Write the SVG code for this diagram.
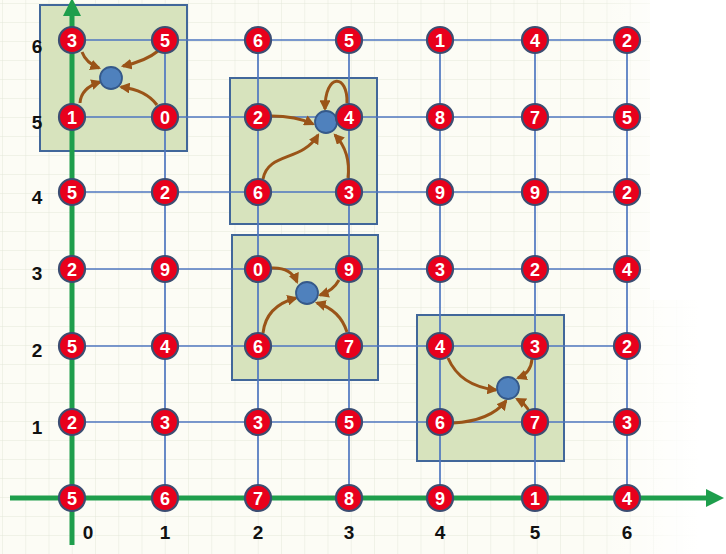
<svg xmlns="http://www.w3.org/2000/svg" width="726" height="554" viewBox="0 0 726 554">
<defs>
<pattern id="fine" width="23.25" height="19" patternUnits="userSpaceOnUse" x="2" y="3">
<path d="M0,0 H23.25 M0,0 V19" fill="none" stroke="#e4e7da" stroke-width="1"/>
</pattern>
<linearGradient id="fade" x1="0" y1="0" x2="1" y2="0">
<stop offset="0.85" stop-color="#fff" stop-opacity="0"/>
<stop offset="1" stop-color="#fff" stop-opacity="1"/>
</linearGradient>
<marker id="ah" viewBox="0 0 10 10" refX="8" refY="5" markerWidth="3.6" markerHeight="3.6" orient="auto">
<path d="M0,0 L10,5 L0,10 z" fill="#9a5418"/>
</marker>
</defs>
<style>
.box{fill:#d7e3bd;stroke:#41679a;stroke-width:2}
.grid{stroke:#4f77c0;stroke-width:1.7;fill:none}
.axis{stroke:#1e9e4c;stroke-width:5;fill:none}
.nd circle{fill:#e8001c;stroke:#3c4d72;stroke-width:2.2}
.nd text{fill:#fff;font-family:"Liberation Sans",Arial,sans-serif;font-weight:bold;font-size:18px;text-anchor:middle}
.hub{fill:#4f81bd;stroke:#35598a;stroke-width:1.8}
.arr{fill:none;stroke:#9a5418;stroke-width:3;marker-end:url(#ah)}
.lbl{font-family:"Liberation Sans",Arial,sans-serif;font-weight:bold;font-size:19px;fill:#111;text-anchor:middle}
</style>
<rect width="726" height="554" fill="#fff"/>
<rect x="0" y="0" width="700" height="554" fill="#fcfcf5"/>
<rect x="0" y="0" width="700" height="554" fill="url(#fine)"/>
<rect x="0" y="0" width="700" height="554" fill="url(#fade)"/>
<rect x="650" y="0" width="76" height="300" fill="#fff"/>

<g id="boxes">
<rect id="box1" class="box" x="40" y="5" width="147" height="146"/>
<rect id="box2" class="box" x="230" y="78" width="147" height="146"/>
<rect id="box3" class="box" x="232" y="235" width="146" height="145"/>
<rect id="box4" class="box" x="417" y="315" width="147" height="146"/>
</g>

<g id="gridlines">
<path class="grid" d="M72,40 H627 M72,117 H627 M72,192 H627 M72,269 H627 M72,346 H627 M72,422 H627"/>
<path class="grid" d="M165,40 V498 M258,40 V498 M349,40 V498 M440,40 V498 M535,40 V498 M627,40 V498"/>
</g>

<g id="axes">
<path class="axis" d="M10,498 H710"/>
<polygon points="706,489 724,498 706,507" fill="#1e9e4c"/>
<path class="axis" d="M72,545 V12"/>
<polygon points="63,16 72,-2 81,16" fill="#1e9e4c"/>
</g>

<g id="connectors">
<path class="arr" d="M82,52 Q86,63 99,68"/>
<path class="arr" d="M158,51 Q146,61 123,66"/>
<path class="arr" d="M80,103 Q81,88 100,82"/>
<path class="arr" d="M157,105 Q146,90 121,87"/>

<path class="arr" d="M271,116 Q296,116 313,124"/>
<path class="arr" d="M347,103 C348,74 325,72 325,109"/>
<path class="arr" d="M263,179 C268,152 302,162 318,135"/>
<path class="arr" d="M348,178 Q351,152 335,135"/>

<path class="arr" d="M271,268 Q291,267 297,282"/>
<path class="arr" d="M339,280 Q333,291 320,295"/>
<path class="arr" d="M263,333 Q266,306 296,298"/>
<path class="arr" d="M347,332 Q340,310 317,303"/>

<path class="arr" d="M448,358 Q460,386 496,390"/>
<path class="arr" d="M532,359 Q531,373 518,378"/>
<path class="arr" d="M453,423 Q490,421 506,401"/>
<path class="arr" d="M530,413 Q526,404 517,399"/>
</g>

<g id="hubs">
<circle id="hub1" class="hub" cx="111" cy="78" r="11"/>
<circle id="hub2" class="hub" cx="326" cy="122" r="11"/>
<circle id="hub3" class="hub" cx="307" cy="293" r="11"/>
<circle id="hub4" class="hub" cx="508" cy="388" r="11"/>
</g>

<g id="nodes">
<g id="n06" class="nd"><circle cx="72" cy="40" r="13"/><text x="72" y="46.5">3</text></g>
<g id="n16" class="nd"><circle cx="165" cy="40" r="13"/><text x="165" y="46.5">5</text></g>
<g id="n26" class="nd"><circle cx="258" cy="40" r="13"/><text x="258" y="46.5">6</text></g>
<g id="n36" class="nd"><circle cx="349" cy="40" r="13"/><text x="349" y="46.5">5</text></g>
<g id="n46" class="nd"><circle cx="440" cy="40" r="13"/><text x="440" y="46.5">1</text></g>
<g id="n56" class="nd"><circle cx="535" cy="40" r="13"/><text x="535" y="46.5">4</text></g>
<g id="n66" class="nd"><circle cx="627" cy="40" r="13"/><text x="627" y="46.5">2</text></g>

<g id="n05" class="nd"><circle cx="72" cy="117" r="13"/><text x="72" y="123.5">1</text></g>
<g id="n15" class="nd"><circle cx="165" cy="117" r="13"/><text x="165" y="123.5">0</text></g>
<g id="n25" class="nd"><circle cx="258" cy="117" r="13"/><text x="258" y="123.5">2</text></g>
<g id="n35" class="nd"><circle cx="349" cy="117" r="13"/><text x="349" y="123.5">4</text></g>
<g id="n45" class="nd"><circle cx="440" cy="117" r="13"/><text x="440" y="123.5">8</text></g>
<g id="n55" class="nd"><circle cx="535" cy="117" r="13"/><text x="535" y="123.5">7</text></g>
<g id="n65" class="nd"><circle cx="627" cy="117" r="13"/><text x="627" y="123.5">5</text></g>

<g id="n04" class="nd"><circle cx="72" cy="192" r="13"/><text x="72" y="198.5">5</text></g>
<g id="n14" class="nd"><circle cx="165" cy="192" r="13"/><text x="165" y="198.5">2</text></g>
<g id="n24" class="nd"><circle cx="258" cy="192" r="13"/><text x="258" y="198.5">6</text></g>
<g id="n34" class="nd"><circle cx="349" cy="192" r="13"/><text x="349" y="198.5">3</text></g>
<g id="n44" class="nd"><circle cx="440" cy="192" r="13"/><text x="440" y="198.5">9</text></g>
<g id="n54" class="nd"><circle cx="535" cy="192" r="13"/><text x="535" y="198.5">9</text></g>
<g id="n64" class="nd"><circle cx="627" cy="192" r="13"/><text x="627" y="198.5">2</text></g>

<g id="n03" class="nd"><circle cx="72" cy="269" r="13"/><text x="72" y="275.5">2</text></g>
<g id="n13" class="nd"><circle cx="165" cy="269" r="13"/><text x="165" y="275.5">9</text></g>
<g id="n23" class="nd"><circle cx="258" cy="269" r="13"/><text x="258" y="275.5">0</text></g>
<g id="n33" class="nd"><circle cx="349" cy="269" r="13"/><text x="349" y="275.5">9</text></g>
<g id="n43" class="nd"><circle cx="440" cy="269" r="13"/><text x="440" y="275.5">3</text></g>
<g id="n53" class="nd"><circle cx="535" cy="269" r="13"/><text x="535" y="275.5">2</text></g>
<g id="n63" class="nd"><circle cx="627" cy="269" r="13"/><text x="627" y="275.5">4</text></g>

<g id="n02" class="nd"><circle cx="72" cy="346" r="13"/><text x="72" y="352.5">5</text></g>
<g id="n12" class="nd"><circle cx="165" cy="346" r="13"/><text x="165" y="352.5">4</text></g>
<g id="n22" class="nd"><circle cx="258" cy="346" r="13"/><text x="258" y="352.5">6</text></g>
<g id="n32" class="nd"><circle cx="349" cy="346" r="13"/><text x="349" y="352.5">7</text></g>
<g id="n42" class="nd"><circle cx="440" cy="346" r="13"/><text x="440" y="352.5">4</text></g>
<g id="n52" class="nd"><circle cx="535" cy="346" r="13"/><text x="535" y="352.5">3</text></g>
<g id="n62" class="nd"><circle cx="627" cy="346" r="13"/><text x="627" y="352.5">2</text></g>

<g id="n01" class="nd"><circle cx="72" cy="422" r="13"/><text x="72" y="428.5">2</text></g>
<g id="n11" class="nd"><circle cx="165" cy="422" r="13"/><text x="165" y="428.5">3</text></g>
<g id="n21" class="nd"><circle cx="258" cy="422" r="13"/><text x="258" y="428.5">3</text></g>
<g id="n31" class="nd"><circle cx="349" cy="422" r="13"/><text x="349" y="428.5">5</text></g>
<g id="n41" class="nd"><circle cx="440" cy="422" r="13"/><text x="440" y="428.5">6</text></g>
<g id="n51" class="nd"><circle cx="535" cy="422" r="13"/><text x="535" y="428.5">7</text></g>
<g id="n61" class="nd"><circle cx="627" cy="422" r="13"/><text x="627" y="428.5">3</text></g>

<g id="n00" class="nd"><circle cx="72" cy="498" r="13"/><text x="72" y="504.5">5</text></g>
<g id="n10" class="nd"><circle cx="165" cy="498" r="13"/><text x="165" y="504.5">6</text></g>
<g id="n20" class="nd"><circle cx="258" cy="498" r="13"/><text x="258" y="504.5">7</text></g>
<g id="n30" class="nd"><circle cx="349" cy="498" r="13"/><text x="349" y="504.5">8</text></g>
<g id="n40" class="nd"><circle cx="440" cy="498" r="13"/><text x="440" y="504.5">9</text></g>
<g id="n50" class="nd"><circle cx="535" cy="498" r="13"/><text x="535" y="504.5">1</text></g>
<g id="n60" class="nd"><circle cx="627" cy="498" r="13"/><text x="627" y="504.5">4</text></g>
</g>

<g id="labels">
<text class="lbl" x="37" y="53">6</text>
<text class="lbl" x="37" y="129">5</text>
<text class="lbl" x="37" y="204">4</text>
<text class="lbl" x="37" y="280">3</text>
<text class="lbl" x="37" y="357">2</text>
<text class="lbl" x="37" y="434">1</text>
<text class="lbl" x="88" y="539">0</text>
<text class="lbl" x="165" y="539">1</text>
<text class="lbl" x="258" y="539">2</text>
<text class="lbl" x="349" y="539">3</text>
<text class="lbl" x="440" y="539">4</text>
<text class="lbl" x="535" y="539">5</text>
<text class="lbl" x="627" y="539">6</text>
</g>
</svg>
